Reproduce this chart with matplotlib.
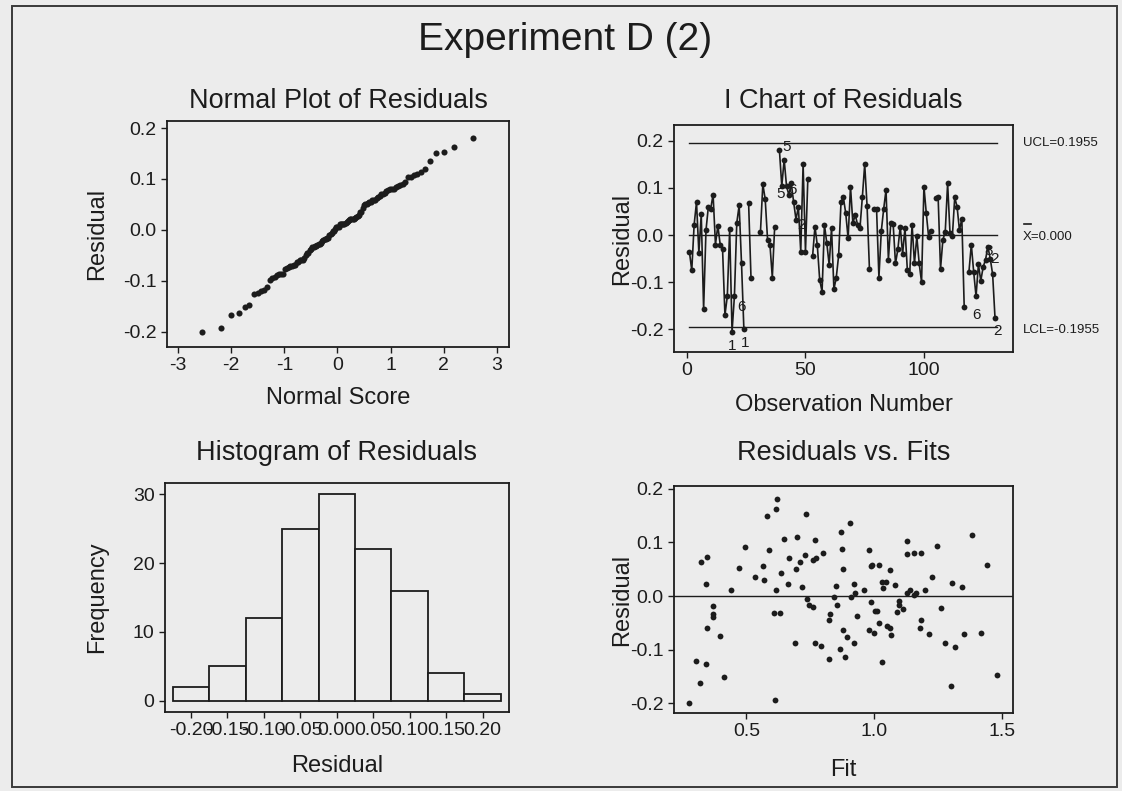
import numpy as np
import matplotlib
matplotlib.use("Agg")
import matplotlib.pyplot as plt
from matplotlib.patches import Rectangle
from statistics import NormalDist

plt.rcParams.update({
    "font.family": ["Liberation Sans", "DejaVu Sans"],
    "axes.unicode_minus": False,
    "xtick.direction": "out", "ytick.direction": "out",
    "xtick.major.size": 4.5, "ytick.major.size": 4.5,
    "xtick.major.width": 1.0, "ytick.major.width": 1.0,
    "xtick.major.pad": 3, "ytick.major.pad": 3,
})
BG = "#ececec"
INK = "#1c1c1c"

# ---- data ----
# I chart: residual per observation (None = missing)
ichart_vals = [
    -0.035, -0.075, 0.022, 0.070, -0.038, 0.044, -0.157, 0.010, 0.060, 0.056,
    0.086, -0.020, 0.020, -0.020, -0.030, -0.170, -0.130, 0.012, -0.205, -0.130,
    0.026, 0.063, -0.060, -0.200, None, 0.067, -0.090, None, None, None,
    0.007, 0.108, 0.076, -0.010, -0.020, -0.090, 0.018, None, 0.180, 0.104,
    0.160, 0.104, 0.085, 0.110, 0.070, 0.033, 0.060, -0.035, 0.150, -0.035,
    0.120, None, -0.045, 0.018, -0.022, -0.095, -0.120, 0.022, -0.017, -0.063,
    0.015, -0.115, -0.090, -0.043, 0.070, 0.080, 0.046, -0.007, 0.103, 0.025,
    0.043, 0.022, 0.015, 0.080, 0.150, 0.062, -0.072, None, 0.056, 0.056,
    -0.090, 0.008, 0.055, 0.096, -0.052, 0.025, 0.024, -0.060, -0.030, 0.018,
    -0.040, 0.015, -0.074, -0.082, 0.022, -0.060, -0.003, -0.060, -0.100, 0.103,
    0.046, -0.005, 0.008, None, 0.078, 0.080, -0.072, -0.010, 0.007, 0.110,
    0.005, -0.003, 0.080, 0.060, 0.010, 0.035, -0.152, None, -0.078, -0.020,
    -0.078, -0.130, -0.062, -0.097, -0.068, -0.052, -0.025, -0.050, -0.083, -0.175,
]
ucl, center, lcl = 0.1955, 0.000, -0.1955
# test-failure flags: (observation, label)
test_flags = [(19, "1"), (24, "1"), (20, "6"), (39, "5"), (40, "5"), (42, "6"),
              (46, "2"), (117, "6"), (126, "8"), (127, "2"), (130, "2")]
flag_offsets = {19: (0, -10), 24: (1, -10), 20: (5, -8), 39: (5, 2), 40: (-1, -6),
                42: (4, -3), 46: (4, -4), 117: (9, -6), 126: (2, 6), 127: (5, -9),
                130: (2, -10)}

# histogram of residuals
hist_centers = [-0.20, -0.15, -0.10, -0.05, 0.00, 0.05, 0.10, 0.15, 0.20]
hist_counts = [2, 5, 12, 25, 30, 22, 16, 4, 1]

# residuals vs fits
fits = [
    0.275, 0.302, 0.316, 0.321, 0.342, 0.342, 0.345, 0.347, 0.370, 0.370,
    0.370, 0.397, 0.410, 0.439, 0.469, 0.496, 0.535, 0.563, 0.568, 0.581,
    0.588, 0.610, 0.606, 0.615, 0.617, 0.619, 0.632, 0.636, 0.647, 0.663,
    0.665, 0.691, 0.692, 0.699, 0.711, 0.719, 0.730, 0.732, 0.738, 0.743,
    0.759, 0.759, 0.770, 0.772, 0.770, 0.793, 0.801, 0.822, 0.822, 0.826,
    0.842, 0.852, 0.853, 0.868, 0.872, 0.873, 0.878, 0.878, 0.884,
    0.894, 0.907, 0.911, 0.923, 0.927, 0.923, 0.931, 0.959, 0.979, 0.978,
    0.986, 0.992, 0.988, 0.999, 1.005, 1.011, 1.018, 1.018, 1.032, 1.032,
    1.036, 1.045, 1.049, 1.061, 1.061, 1.067, 1.081, 1.090, 1.097, 1.099,
    1.112, 1.130, 1.130, 1.127, 1.140, 1.156, 1.158, 1.164, 1.185, 1.182,
    1.179, 1.198, 1.215, 1.225, 1.246, 1.263, 1.277, 1.300, 1.304, 1.317,
    1.346, 1.352, 1.385, 1.418, 1.444, 1.483,
]
fit_resid = [
    -0.200, -0.121, -0.163, 0.064, -0.126, 0.022, 0.072, -0.059, -0.018, -0.033,
    -0.039, -0.075, -0.151, 0.012, 0.052, 0.091, 0.035, 0.055, 0.029, 0.150,
    0.086, -0.193, -0.032, 0.162, 0.012, 0.181, -0.032, 0.043, 0.107, 0.022,
    0.070, -0.087, 0.050, 0.110, 0.063, 0.016, 0.076, 0.153, -0.006, -0.017,
    -0.020, 0.067, 0.104, 0.070, -0.087, -0.093, 0.080, -0.118, -0.045, -0.034,
    -0.002, 0.019, -0.016, -0.099, 0.119, 0.088, -0.063, 0.050, -0.113,
    -0.076, 0.136, -0.002, 0.022, 0.006, -0.088, -0.037, 0.011, 0.085, -0.063,
    0.055, 0.058, -0.011, -0.068, -0.028, -0.028, -0.050, 0.058, -0.123, 0.026,
    0.014, 0.027, -0.056, 0.048, -0.059, -0.073, 0.021, -0.029, -0.009, -0.016,
    -0.025, 0.103, 0.078, 0.006, 0.012, 0.002, 0.080, 0.006, 0.080, -0.045,
    -0.060, 0.011, -0.070, 0.035, 0.094, -0.022, -0.087, -0.168, 0.024, -0.095,
    0.017, -0.071, 0.113, -0.068, 0.058, -0.147,
]

W, H = 1122, 791
fig = plt.figure(figsize=(W / 100, H / 100), dpi=100, facecolor=BG)


def px_axes(x0, y0, x1, y1):
    ax = fig.add_axes([x0 / W, 1 - y1 / H, (x1 - x0) / W, (y1 - y0) / H], facecolor=BG)
    for s in ax.spines.values():
        s.set_color(INK); s.set_linewidth(1.3)
    ax.tick_params(colors=INK, labelsize=14)
    return ax


def title(ax, txt, dy):
    ax.text(0.5, 1 + dy, txt, transform=ax.transAxes, ha="center", va="center",
            fontsize=19.5, color=INK)


def labels(ax, xl, yl, xy, yx):
    ax.set_xlabel(xl, fontsize=17, color=INK)
    ax.set_ylabel(yl, fontsize=17, color=INK)
    ax.xaxis.label.set_va("center"); ax.yaxis.label.set_va("center")
    ax.xaxis.set_label_coords(0.5, xy)
    ax.yaxis.set_label_coords(yx, 0.5)


fig.text(565 / W, 1 - 40 / H, "Experiment D (2)", ha="center", va="center",
         fontsize=28, color=INK)
fig.patches.append(Rectangle((12 / W, 1 - 787 / H), 1105 / W, 781 / H,
                             transform=fig.transFigure, fill=False,
                             edgecolor="#3a3a3a", linewidth=1.4))

# ---- normal plot ----
ax1 = px_axes(167, 121, 509, 347)
res_sorted = np.sort(fit_resid)
n = len(res_sorted)
scores = [NormalDist().inv_cdf((i + 1 - 0.375) / (n + 0.25)) for i in range(n)]
ax1.plot(scores, res_sorted, "o", color=INK, markersize=4.4, markeredgewidth=0)
ax1.set_xlim(-3.21, 3.23); ax1.set_ylim(-0.230, 0.2138)
ax1.set_xticks(range(-3, 4))
ax1.set_yticks([-0.2, -0.1, 0.0, 0.1, 0.2])
ax1.set_yticklabels(["-0.2", "-0.1", "0.0", "0.1", "0.2"])
title(ax1, "Normal Plot of Residuals", 0.09)
labels(ax1, "Normal Score", "Residual", -0.225, -0.205)

# ---- I chart ----
ax2 = px_axes(674, 125, 1013, 352)
obs = np.arange(1, len(ichart_vals) + 1)
vals = np.array([np.nan if v is None else v for v in ichart_vals])
ax2.plot(obs, vals, "-o", color=INK, linewidth=1.2, markersize=4.2, markeredgewidth=0)
for lvl in (ucl, center, lcl):
    ax2.plot([obs[0], obs[-1] + 1], [lvl, lvl], color=INK, linewidth=1.0)
for o, t in test_flags:
    ax2.annotate(t, (o, vals[o - 1]), xytext=flag_offsets[o], textcoords="offset points",
                 ha="center", va="center", fontsize=11, color=INK)
ax2.set_xlim(-5.5, 137.6); ax2.set_ylim(-0.248, 0.2335)
ax2.set_xticks([0, 50, 100])
ax2.set_yticks([-0.2, -0.1, 0.0, 0.1, 0.2])
ax2.set_yticklabels(["-0.2", "-0.1", "0.0", "0.1", "0.2"])
tr = ax2.get_yaxis_transform()
ax2.text(1.03, ucl, "UCL=0.1955", transform=tr, va="center", fontsize=9.5, color=INK)
ax2.text(1.03, center - 0.004, "X=0.000", transform=tr, va="center", fontsize=9.5, color=INK)
ax2.plot([1.033, 1.052], [0.024, 0.024], transform=tr, color=INK, linewidth=1.2, clip_on=False)
ax2.text(1.03, lcl - 0.005, "LCL=-0.1955", transform=tr, va="center", fontsize=9.5, color=INK)
title(ax2, "I Chart of Residuals", 0.106)
labels(ax2, "Observation Number", "Residual", -0.233, -0.153)

# ---- histogram ----
ax3 = px_axes(165, 483, 508.5, 712)
ax3.bar(hist_centers, hist_counts, width=0.05, facecolor=BG, edgecolor=INK, linewidth=1.3)
ax3.set_xlim(-0.2356, 0.2356); ax3.set_ylim(-1.6, 31.6)
ax3.set_xticks(hist_centers)
ax3.set_xticklabels([f"{c:.2f}" for c in hist_centers])
ax3.set_yticks([0, 10, 20, 30])
title(ax3, "Histogram of Residuals", 0.131)
labels(ax3, "Residual", "Frequency", -0.236, -0.198)

# ---- residuals vs fits ----
ax4 = px_axes(674, 486, 1013, 713)
ax4.plot(fits, fit_resid, "o", color=INK, markersize=4.2, markeredgewidth=0)
ax4.axhline(0, color=INK, linewidth=1.0)
ax4.set_xlim(0.216, 1.544); ax4.set_ylim(-0.218, 0.205)
ax4.set_xticks([0.5, 1.0, 1.5])
ax4.set_yticks([-0.2, -0.1, 0.0, 0.1, 0.2])
ax4.set_yticklabels(["-0.2", "-0.1", "0.0", "0.1", "0.2"])
title(ax4, "Residuals vs. Fits", 0.145)
labels(ax4, "Fit", "Residual", -0.251, -0.153)

fig.savefig("out.png", dpi=100, facecolor=BG)
